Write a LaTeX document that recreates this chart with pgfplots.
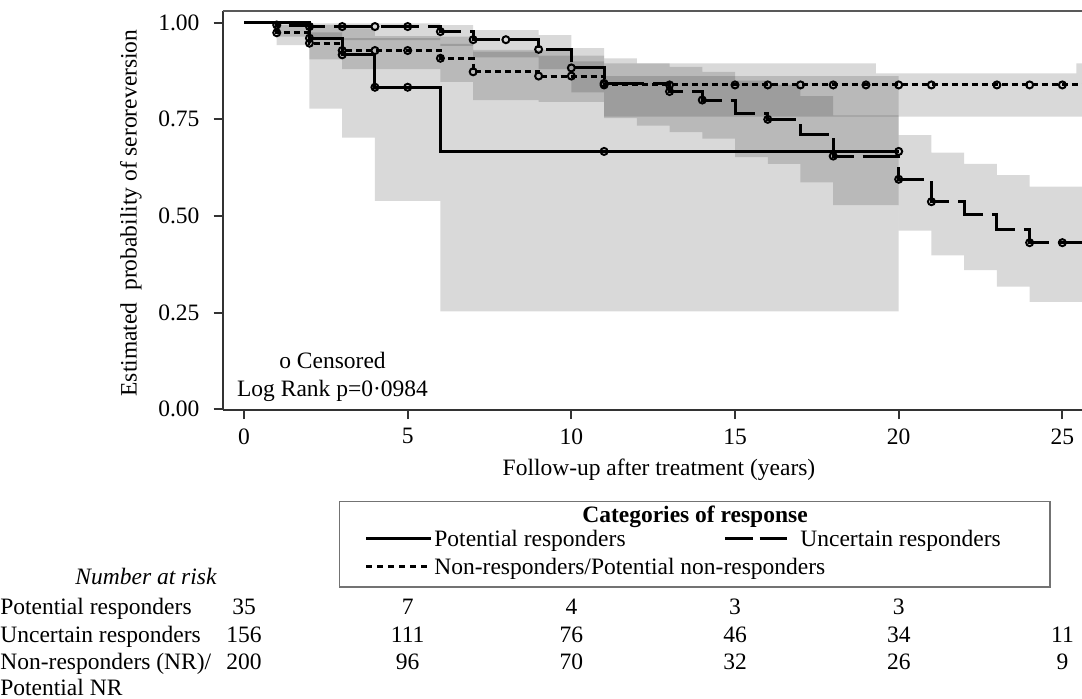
\documentclass[border=0pt]{standalone}
\usepackage{pgfplots}
\pgfplotsset{compat=1.18}
\usepackage{pgfplotstable}
\usepgfplotslibrary{fillbetween}
\usepackage{fontspec}
\setmainfont{Liberation Serif}
\newcommand{\myfont}{\fontsize{11.75}{14}\selectfont}

% confidence bands (t, lower, upper)
\pgfplotstableread{
t lo hi
2 0.778 0.994
3 0.703 0.985
4 0.539 0.965
6 0.253 0.964
7 0.253 0.930
10 0.253 0.900
11 0.253 0.862
20 0.253 0.862
}\bandPR
\pgfplotstableread{
t lo hi
1 0.964 0.999
2 0.955 0.998
6 0.940 0.994
7 0.910 0.981
9 0.880 0.968
10 0.820 0.934
11 0.753 0.908
12 0.734 0.895
13 0.717 0.886
14 0.700 0.873
15 0.652 0.850
16 0.635 0.840
17 0.587 0.810
18 0.528 0.760
20 0.462 0.709
21 0.398 0.664
22 0.360 0.635
23 0.317 0.606
24 0.278 0.576
25.6 0.278 0.576
}\bandUR
\pgfplotstableread{
t lo hi
1 0.942 0.994
2 0.905 0.975
3 0.880 0.960
6 0.847 0.945
7 0.800 0.925
9 0.795 0.915
11 0.757 0.895
19.3 0.757 0.869
25.43 0.757 0.895
25.6 0.757 0.895
}\bandNR

% survival curves
\pgfplotstableread{
t s
0 1
2 0.960
3 0.917
4 0.833
6 0.667
20 0.667
}\kmPR
\pgfplotstableread{
t s
0 1
1 0.994
2 0.990
6 0.977
7 0.956
9 0.931
10 0.883
11 0.843
13 0.822
14 0.800
15 0.764
16 0.750
17 0.712
18 0.655
20 0.595
21 0.537
22 0.503
23 0.464
24 0.431
25.6 0.431
}\kmUR
\pgfplotstableread{
t s
0 1
1 0.974
2 0.947
3 0.928
6 0.908
7 0.873
9 0.862
11 0.839
25.6 0.839
}\kmNR

% censored observations
\pgfplotstableread{
t s
2 0.960
3 0.917
4 0.833
5 0.833
11 0.667
20 0.667
}\cPR
\pgfplotstableread{
t s
1 0.994
2 0.990
3 0.990
4 0.990
5 0.990
6 0.977
7 0.956
8 0.956
9 0.931
10 0.883
11 0.843
13 0.822
14 0.800
16 0.750
18 0.655
20 0.595
21 0.537
24 0.431
25 0.431
}\cUR
\pgfplotstableread{
t s
1 0.974
2 0.947
3 0.928
4 0.928
5 0.928
6 0.908
7 0.873
9 0.862
10 0.862
11 0.839
13 0.839
15 0.839
16 0.839
17 0.839
18 0.839
19 0.839
20 0.839
21 0.839
23 0.839
24 0.839
25 0.839
}\cNR

\begin{document}
\begin{tikzpicture}[font=\myfont]
\begin{axis}[
  at={(111.35pt,144pt)}, anchor=south west,
  scale only axis, width=429.65pt, height=199.65pt,
  xmin=-0.651, xmax=25.6, ymin=-0.0018, ymax=1.031,
  axis lines*=left,
  axis line style={-, black!80, line width=1pt},
  tick align=outside,
  major tick length=4.6pt,
  tick style={black!80, line width=0.9pt},
  xtick={0,5,10,15,20,25}, xticklabels={0,5,10,15,20,25},
  ytick={0,0.25,0.5,0.75,1}, yticklabels={0.00,0.25,0.50,0.75,1.00},
  /pgf/number format/assume math mode=true,
  tick label style={font=\myfont, inner sep=0pt},
  xticklabel shift=4.5pt,
  yticklabel shift=6.85pt,
  xlabel={Follow-up after treatment (years)},
  ylabel={Estimated\ \ probability of seroreversion},
  label style={font=\myfont, inner sep=0pt},
  xlabel style={at={(axis description cs:0.5077,-0.1628)}, anchor=base},
  ylabel style={at={(axis description cs:-0.10672,0.4934)}, anchor=center},
  clip=false,
  censor/.style={only marks, mark=o, mark size=1.75pt,
    mark options={draw=black, line width=1pt, solid}},
]
% bands
\addplot[draw=none, const plot, name path=prU, forget plot] table[x=t,y=hi]{\bandPR};
\addplot[draw=none, const plot, name path=prL, forget plot] table[x=t,y=lo]{\bandPR};
\addplot[fill=black, fill opacity=0.15, draw=none, forget plot] fill between[of=prU and prL];
\addplot[draw=none, const plot, name path=urU, forget plot] table[x=t,y=hi]{\bandUR};
\addplot[draw=none, const plot, name path=urL, forget plot] table[x=t,y=lo]{\bandUR};
\addplot[fill=black, fill opacity=0.15, draw=none, forget plot] fill between[of=urU and urL];
\addplot[draw=none, const plot, name path=nrU, forget plot] table[x=t,y=hi]{\bandNR};
\addplot[draw=none, const plot, name path=nrL, forget plot] table[x=t,y=lo]{\bandNR};
\addplot[fill=black, fill opacity=0.15, draw=none, forget plot] fill between[of=nrU and nrL];
% curves
\addplot[black, line width=1.5pt, const plot, mark=none] table[x=t,y=s]{\kmPR};
\addplot[black, line width=1.5pt, const plot, mark=none, dash pattern=on 19pt off 4.5pt] table[x=t,y=s]{\kmUR};
\addplot[black, line width=1.5pt, const plot, mark=none, dash pattern=on 3pt off 2pt] table[x=t,y=s]{\kmNR};
% censored marks
\addplot[censor] table[x=t,y=s]{\cPR};
\addplot[censor] table[x=t,y=s]{\cUR};
\addplot[censor] table[x=t,y=s]{\cNR};
% top frame line
\draw[black!65, line width=0.8pt] (rel axis cs:0,1) -- (rel axis cs:1,1);
\end{axis}

\begin{scope}[shift={(0pt,349pt)}, x=0.5pt, y=-0.5pt, every node/.style={inner sep=0pt, font=\myfont}]
% annotations inside plot
\node[anchor=base] at (332.5,368) {o Censored};
\node[anchor=base] at (332.5,396) {Log Rank p=0·0984};
% legend
\draw[black!55, line width=0.7pt] (339.5,501.5) rectangle (1050,587);
\node[anchor=base, font=\myfont\bfseries] at (695,522) {Categories of response};
\draw[line width=1.5pt] (366,538) -- (431,538);
\node[anchor=base west] at (434,546) {Potential responders};
\draw[line width=1.5pt, dash pattern=on 13.75pt off 3.5pt] (725,538) -- (790,538);
\node[anchor=base west] at (800,546) {Uncertain responders};
\draw[line width=1.5pt, dash pattern=on 3pt off 2.5pt] (366,566) -- (431,566);
\node[anchor=base west] at (434,574) {Non-responders/Potential non-responders};
% number at risk
\node[anchor=base, font=\myfont\itshape] at (146,584) {Number at risk};
\node[anchor=base west] at (0,614) {Potential responders};
\node[anchor=base west] at (0,642) {Uncertain responders};
\node[anchor=base west] at (0,669) {Non-responders (NR)/};
\node[anchor=base west] at (0,695) {Potential NR};
% row 1
\node[anchor=base] at (244,614) {35};
\node[anchor=base] at (407.7,614) {7};
\node[anchor=base] at (571.4,614) {4};
\node[anchor=base] at (735.1,614) {3};
\node[anchor=base] at (898.8,614) {3};
% row 2
\node[anchor=base] at (244,642) {156};
\node[anchor=base] at (407.7,642) {111};
\node[anchor=base] at (571.4,642) {76};
\node[anchor=base] at (735.1,642) {46};
\node[anchor=base] at (898.8,642) {34};
\node[anchor=base] at (1062.5,642) {11};
% row 3
\node[anchor=base] at (244,669) {200};
\node[anchor=base] at (407.7,669) {96};
\node[anchor=base] at (571.4,669) {70};
\node[anchor=base] at (735.1,669) {32};
\node[anchor=base] at (898.8,669) {26};
\node[anchor=base] at (1062.5,669) {9};
\end{scope}
\pgfresetboundingbox
\path[use as bounding box] (0,0) rectangle (541pt,349pt);
\end{tikzpicture}
\end{document}
